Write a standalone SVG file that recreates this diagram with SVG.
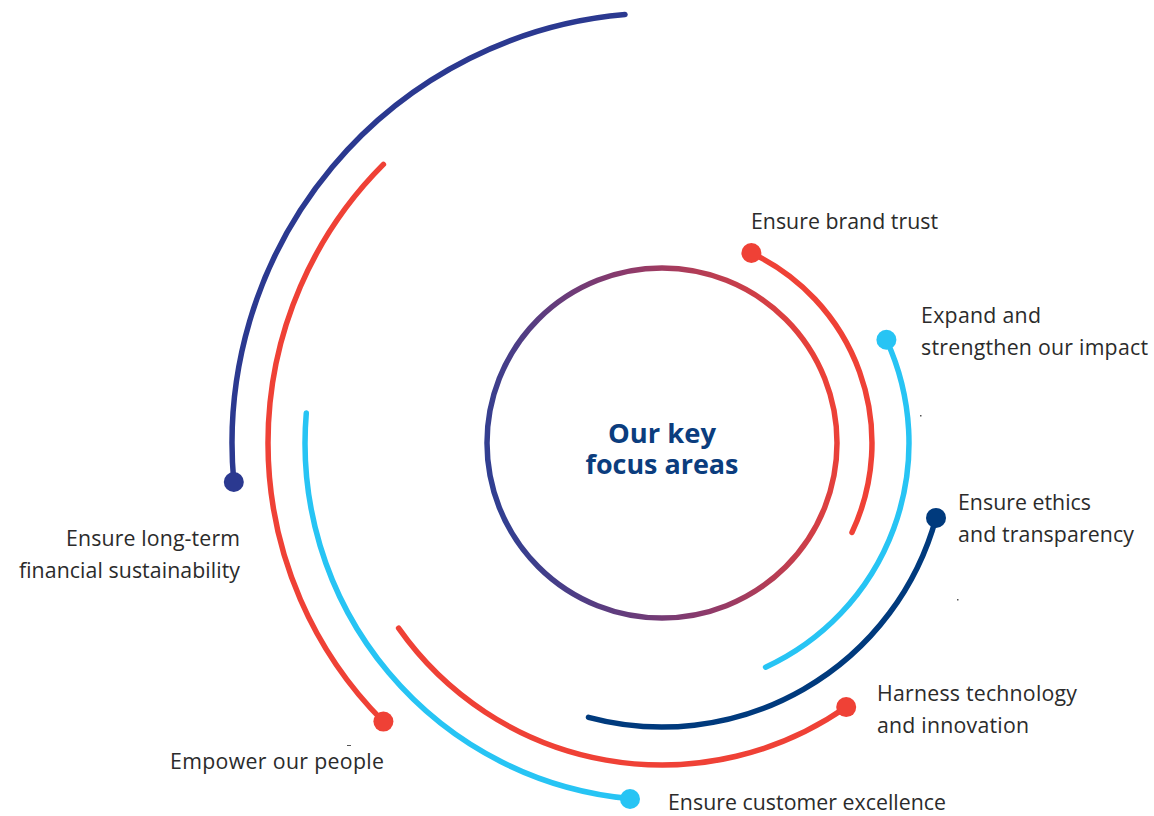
<svg xmlns="http://www.w3.org/2000/svg" width="1154" height="816" viewBox="0 0 1154 816">
<defs>
<linearGradient id="ring" gradientUnits="userSpaceOnUse" x1="487" y1="480" x2="837" y2="400">
<stop offset="0" stop-color="#2F3F92"/>
<stop offset="0.5" stop-color="#8A3A6C"/>
<stop offset="1" stop-color="#EF4136"/>
</linearGradient>
</defs>
<style>
.arc{fill:none;stroke-width:5.5;stroke-linecap:round}
.red{stroke:#EF4136}.redf{fill:#EF4136}
.cyan{stroke:#27C4F4}.cyanf{fill:#27C4F4}
.navy{stroke:#2B3990}.navyf{fill:#2B3990}
.dnavy{stroke:#003A7D}.dnavyf{fill:#003A7D}
.lbl{font-family:"Open Sans","Noto Sans","DejaVu Sans",sans-serif;font-size:21.3px;fill:#2B2B2B}
.ctr{font-family:"Open Sans","Noto Sans","DejaVu Sans",sans-serif;font-size:27.5px;font-weight:bold;fill:#0B3D7E}
</style>
<rect width="1154" height="816" fill="#FFFFFF"/>
<g id="connectors">
<path class="arc navy" d="M625 14.6 A430 430 0 0 0 233.8 482"/>
<path class="arc red" d="M383.4 164.4 A394 394 0 0 0 383.4 721.6"/>
<path class="arc cyan" d="M306.3 413 A357 357 0 0 0 630 798.6"/>
<path class="arc red" d="M398.6 628.2 A322 322 0 0 0 846.2 707.1"/>
<path class="arc dnavy" d="M588.5 717.3 A284 284 0 0 0 936 517.9"/>
<path class="arc cyan" d="M765.6 667.2 A247 247 0 0 0 886.4 339.8"/>
<path class="arc red" d="M852 532.4 A210 210 0 0 0 751.4 253"/>
</g>
<g id="center">
<circle cx="662" cy="443" r="175" fill="none" stroke="url(#ring)" stroke-width="5.5"/>
<text class="ctr" x="662" y="443" text-anchor="middle" textLength="108" lengthAdjust="spacingAndGlyphs">Our key</text>
<text class="ctr" x="662" y="474" text-anchor="middle" textLength="153" lengthAdjust="spacingAndGlyphs">focus areas</text>
</g>
<g id="financial">
<circle class="navyf" cx="233.8" cy="482" r="10"/>
<text class="lbl" x="240" y="546" text-anchor="end" textLength="174">Ensure long-term</text>
<text class="lbl" x="240" y="578" text-anchor="end" textLength="221">financial sustainability</text>
</g>
<g id="people">
<circle class="redf" cx="383.4" cy="721.6" r="10"/>
<text class="lbl" x="170" y="769" textLength="214">Empower our people</text>
</g>
<g id="customer">
<circle class="cyanf" cx="630" cy="799" r="10"/>
<text class="lbl" x="668" y="810" textLength="278">Ensure customer excellence</text>
</g>
<g id="technology">
<circle class="redf" cx="846.2" cy="707.1" r="10"/>
<text class="lbl" x="877" y="701" textLength="200">Harness technology</text>
<text class="lbl" x="877" y="733" textLength="152">and innovation</text>
</g>
<g id="ethics">
<circle class="dnavyf" cx="936" cy="517.9" r="10"/>
<text class="lbl" x="958" y="510" textLength="133">Ensure ethics</text>
<text class="lbl" x="958" y="542" textLength="176">and transparency</text>
</g>
<g id="impact">
<circle class="cyanf" cx="886.4" cy="339.8" r="10"/>
<text class="lbl" x="921" y="323" textLength="120">Expand and</text>
<text class="lbl" x="921" y="355" textLength="227">strengthen our impact</text>
</g>
<g id="brand">
<circle class="redf" cx="751.4" cy="253" r="10"/>
<text class="lbl" x="751" y="229" textLength="187">Ensure brand trust</text>
</g>
<g id="marks" fill="#555555">
<rect x="920" y="415" width="1.5" height="1.5"/>
<rect x="957" y="599" width="1.5" height="1.5"/>
<rect x="347" y="745" width="4" height="1"/>
</g>
</svg>
